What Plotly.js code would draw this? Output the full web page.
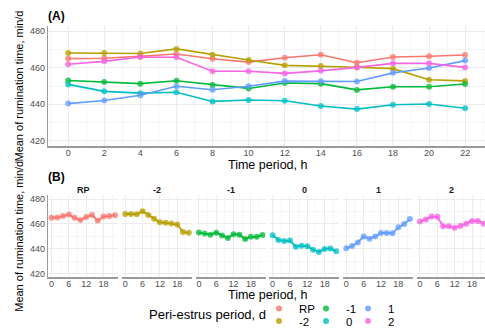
<!DOCTYPE html>
<html>
<head>
<meta charset="utf-8">
<script src="https://cdn.plot.ly/plotly-3.0.1.min.js"></script>
<style>html,body{margin:0;padding:0;background:#fff;overflow:hidden}#chart{width:485px;height:336px}</style>
</head>
<body>
<div id="chart"></div>
<script>
// ---- data ----
const hours = [0, 2, 4, 6, 8, 10, 12, 14, 16, 18, 20, 22];
const periods = ["RP", "-2", "-1", "0", "1", "2"];
const rpValues = [465.0, 465.2, 466.3, 467.5, 464.9, 463.1, 465.5, 467.1, 462.7, 465.9, 466.3, 467.0];
const minus2Values = [468.1, 468.0, 467.8, 470.3, 467.1, 464.2, 461.3, 460.9, 460.3, 459.5, 453.4, 452.8];
const minus1Values = [453.0, 452.2, 451.3, 452.9, 450.6, 448.7, 451.7, 451.3, 447.9, 449.6, 449.6, 451.1];
const zeroValues = [450.9, 447.1, 446.1, 446.6, 441.6, 442.4, 442.0, 439.1, 437.4, 439.8, 440.2, 437.9];
const plus1Values = [440.4, 442.1, 445.0, 449.9, 448.0, 449.9, 452.7, 452.6, 452.5, 457.2, 459.9, 463.9];
const plus2Values = [461.9, 463.5, 465.9, 465.7, 458.1, 458.1, 456.9, 458.3, 460.2, 462.4, 462.4, 460.2];
const yTicks = [420, 440, 460, 480];
const xTicksA = [0, 2, 4, 6, 8, 10, 12, 14, 16, 18, 20, 22];
const xTicksB = [0, 6, 12, 18];

// ---- style ----
const colors = ["#F8766D", "#B79F00", "#00BA38", "#00BFC4", "#619CFF", "#F564E3"];
const seriesValues = [rpValues, minus2Values, minus1Values, zeroValues, plus1Values, plus2Values];
const W = 485, H = 336;
const fx = px => px / W;
const fy = px => 1 - px / H;
const FONT = "Liberation Sans, Arial, sans-serif";
const tickFont = {family: FONT, size: 9, color: "#4d4d4d"};
const gridC = "#ebebeb", minorC = "#f5f5f5", lineC = "#9a9a9a";
const XR = [-1.1, 23.1];
const YR = [417, 483];
const yTitleText = "Mean of rumination time, min/d";
const yTitleFont = {family: FONT, size: 11, color: "#000"};
// legend key positions (column x of dot, row y) : RP,-2 | -1,0 | 1,2
const legCol = [279, 279, 326, 326, 368, 368];
const legRow = [321, 334, 321, 334, 321, 334];

const traces = [];
const layout = {
  width: W, height: H,
  margin: {l: 0, r: 0, t: 0, b: 0},
  paper_bgcolor: "#fff", plot_bgcolor: "#fff",
  font: {family: FONT, color: "#000"},
  annotations: [], shapes: []
};

// Panel A
periods.forEach((p, i) => {
  traces.push({
    x: hours, y: seriesValues[i], name: p, type: "scatter", mode: "lines+markers",
    xaxis: "x", yaxis: "y",
    line: {color: colors[i], width: 1.6},
    marker: {color: colors[i], size: 6, opacity: 0.75},
    showlegend: false
  });
});
// legend-only entries (dot keys), no data drawn
periods.forEach((p, i) => {
  const lg = i === 0 ? "legend" : "legend" + (i + 1);
  traces.push({
    x: [null], y: [null], name: p, type: "scatter", mode: "markers",
    xaxis: "x", yaxis: "y",
    marker: {color: colors[i], size: 6, opacity: 0.8},
    legend: lg, showlegend: true, hoverinfo: "skip"
  });
  layout[lg] = {
    orientation: "h", xanchor: "left", yanchor: "middle",
    x: fx(legCol[i] - 20), y: fy(legRow[i]),
    font: {family: FONT, size: 11.5, color: "#000"},
    bgcolor: "rgba(0,0,0,0)", borderwidth: 0, itemwidth: 30
  };
});
layout.xaxis = {
  domain: [fx(48.3), 1], range: XR, anchor: "y",
  tickvals: xTicksA, ticktext: xTicksA.map(String), tickfont: tickFont,
  showgrid: true, gridcolor: gridC, gridwidth: 1,
  minor: {dtick: 1, showgrid: true, gridcolor: minorC, gridwidth: 1},
  zeroline: false, showline: true, linecolor: lineC, linewidth: 1.5, ticks: "",
  ticklabelstandoff: -3, fixedrange: true
};
layout.yaxis = {
  domain: [fy(152.3), fy(26.7)], range: YR, anchor: "x",
  tickvals: yTicks, ticktext: yTicks.map(String), tickfont: tickFont,
  showgrid: true, gridcolor: gridC,
  minor: {dtick: 10, showgrid: true, gridcolor: minorC},
  zeroline: false, showline: true, linecolor: lineC, linewidth: 1.5, ticks: "",
  title: {text: yTitleText, font: yTitleFont, standoff: 4},
  automargin: false, fixedrange: true
};

// Panels B
const pitch = 73.7, pw = 70, left0 = 48.3;
periods.forEach((p, i) => {
  const n = i + 2;
  const xa = "xaxis" + n, ya = "yaxis" + n;
  const l = left0 + i * pitch;
  let r = l + pw;
  let xr = XR.slice();
  if (r > W) { xr[1] = XR[0] + (W - l) / pw * (XR[1] - XR[0]); r = W; }
  traces.push({
    x: hours, y: seriesValues[i], name: p, type: "scatter", mode: "lines+markers",
    xaxis: "x" + n, yaxis: "y" + n,
    line: {color: colors[i], width: 1.8},
    marker: {color: colors[i], size: 6, opacity: 0.75},
    showlegend: false
  });
  layout[xa] = {
    domain: [fx(l), fx(r)], range: xr, anchor: "y" + n,
    tickvals: xTicksB, ticktext: xTicksB.map(String), tickfont: tickFont,
    showgrid: true, gridcolor: gridC,
    minor: {dtick: 3, showgrid: true, gridcolor: minorC},
    zeroline: false, showline: true, linecolor: lineC, linewidth: 1.5, ticks: "",
    ticklabelstandoff: -2, fixedrange: true
  };
  layout[ya] = {
    domain: [fy(288.3), fy(203.3)], range: YR, anchor: "x" + n,
    tickvals: yTicks, ticktext: yTicks.map(String), tickfont: tickFont,
    showticklabels: i === 0,
    showgrid: true, gridcolor: gridC,
    minor: {dtick: 10, showgrid: true, gridcolor: minorC},
    zeroline: false, showline: i === 0, linecolor: lineC, linewidth: 1.5, ticks: "",
    automargin: false, fixedrange: true
  };
  if (i === 0) layout[ya].title = {text: yTitleText, font: yTitleFont, standoff: 4};
  layout.annotations.push({
    text: "<b>" + p + "</b>", xref: "paper", yref: "paper",
    x: fx(l + pw / 2), y: fy(197.7),
    xanchor: "center", yanchor: "middle", showarrow: false,
    font: {family: FONT, size: 9, color: "#1a1a1a"}
  });
});

// tags and titles
const ann = (text, xpx, ypx, opts) => Object.assign({
  text, xref: "paper", yref: "paper", x: fx(xpx), y: fy(ypx),
  showarrow: false, xanchor: "left", yanchor: "middle",
  font: {family: FONT, size: 13, color: "#000"}
}, opts || {});
const titleFont = {family: FONT, size: 12.5, color: "#000"};
layout.annotations.push(ann("<b>(A)</b>", 46, 16.7, {font: {family: FONT, size: 12, color: "#000"}}));
layout.annotations.push(ann("<b>(B)</b>", 46, 184, {font: {family: FONT, size: 12, color: "#000"}}));
layout.annotations.push(ann("Time period, h", 267, 172, {xanchor: "center", font: titleFont}));
layout.annotations.push(ann("Time period, h", 267, 306.5, {xanchor: "center", font: titleFont}));
layout.annotations.push(ann("Peri-estrus period, d", 147, 327.5, {}));

Plotly.newPlot("chart", traces, layout, {staticPlot: true, displayModeBar: false});
</script>
</body>
</html>
